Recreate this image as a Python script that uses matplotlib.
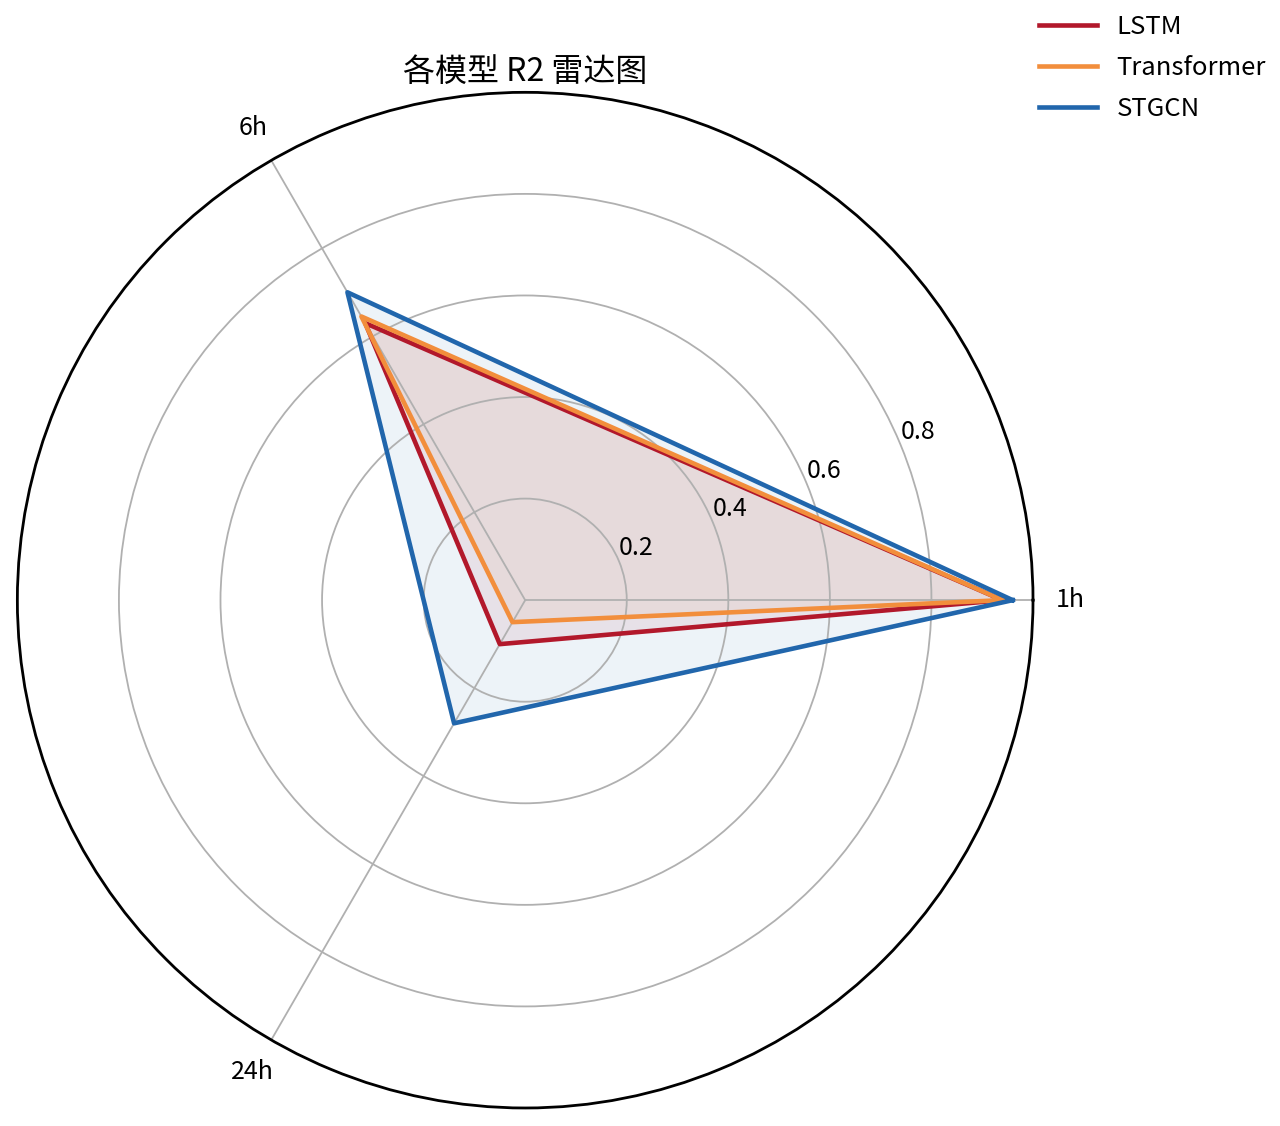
import numpy as np
import matplotlib.pyplot as plt

plt.rcParams['font.family'] = ['Noto Sans CJK SC', 'DejaVu Sans']

# 数据
horizons = ['1h', '6h', '24h']
models = ['LSTM', 'Transformer', 'STGCN']
r2_lstm = [0.94, 0.63, 0.10]
r2_transformer = [0.94, 0.645, 0.05]
r2_stgcn = [0.96, 0.70, 0.28]
colors = ['#b2182b', '#f28e3c', '#2166ac']

angles = np.linspace(0, 2 * np.pi, len(horizons), endpoint=False)
angles_closed = np.concatenate([angles, angles[:1]])

fig = plt.figure(figsize=(12.8, 11.26), dpi=100)
ax = fig.add_axes([0.0133, 0.016, 0.794, 0.902], polar=True)

for name, vals, c in zip(models, [r2_lstm, r2_transformer, r2_stgcn], colors):
    v = np.concatenate([vals, vals[:1]])
    ax.plot(angles_closed, v, color=c, linewidth=3.3, label=name)
    ax.fill(angles_closed, v, color=c, alpha=0.08)

ax.set_ylim(0, 1)
ax.set_yticks([0.2, 0.4, 0.6, 0.8])
ax.set_yticklabels(['0.2', '0.4', '0.6', '0.8'], fontsize=18)
ax.set_xticks(angles)
ax.set_xticklabels(horizons, fontsize=18)
ax.tick_params(axis='x', pad=16)
ax.grid(color='#b0b0b0', linewidth=1.3)
ax.spines['polar'].set_linewidth(2)
ax.set_title('各模型 R2 雷达图', fontsize=23, pad=8)

fig.legend(loc='upper right', bbox_to_anchor=(1.007, 1.008), frameon=False, fontsize=18.5,
           handlelength=2.25, handletextpad=0.75, labelspacing=0.58)

fig.savefig('out.png', dpi=100)
